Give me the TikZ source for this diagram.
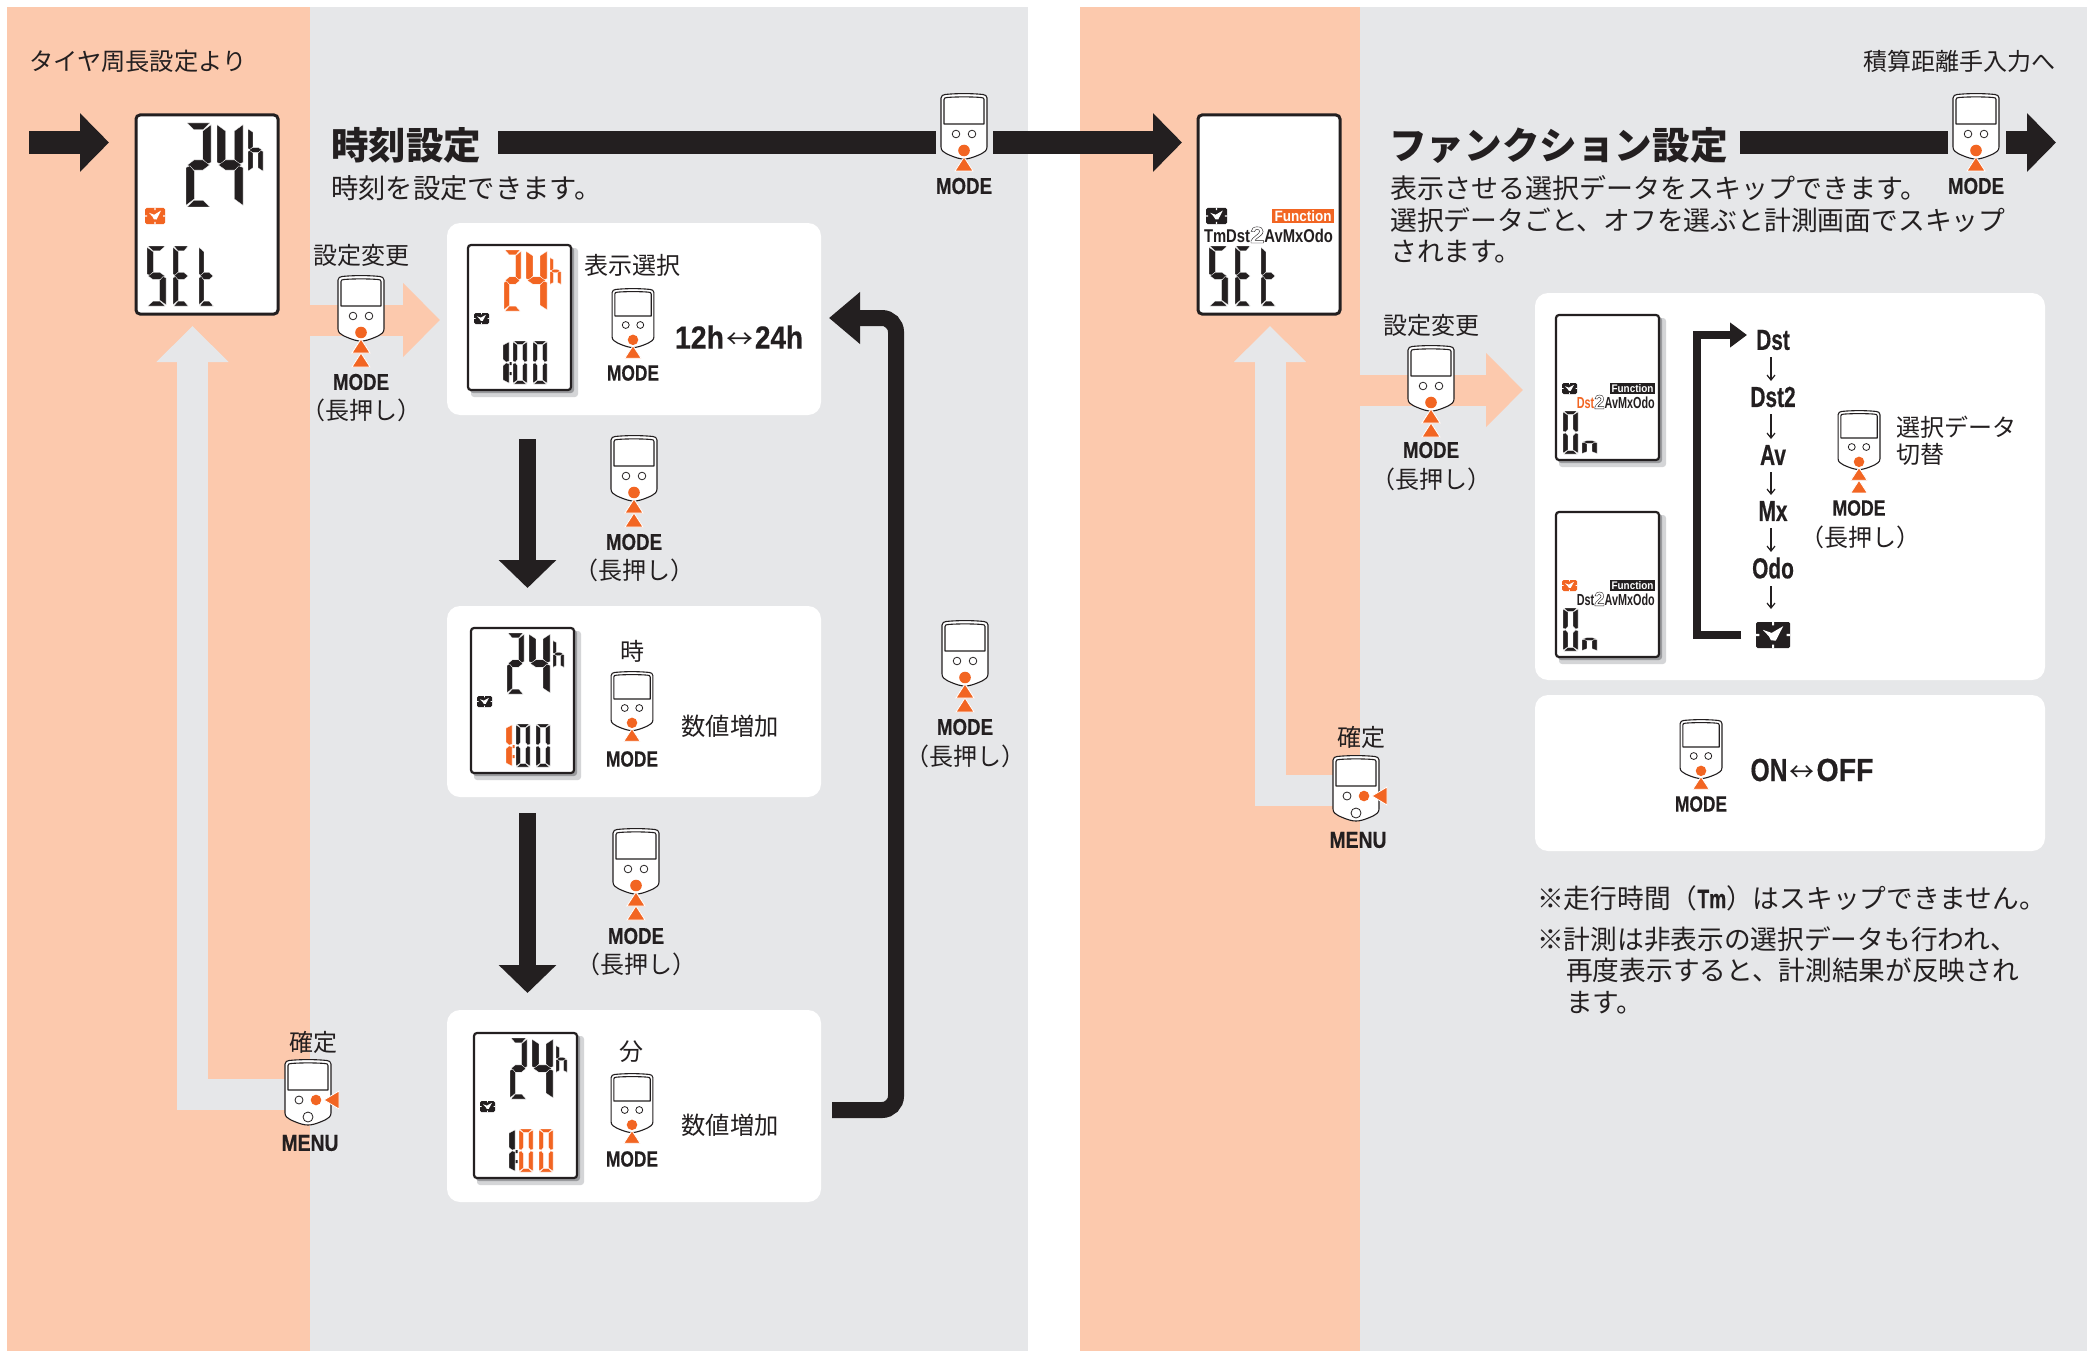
\documentclass[tikz,border=0pt]{standalone}
\usepackage{fontspec}
\usepackage{graphicx}
\usetikzlibrary{arrows.meta}
\setmainfont{Noto Sans CJK JP}
\newfontfamily\jpk{Noto Sans CJK JP Black}
\newfontfamily\cond[FakeStretch=0.72,BoldFeatures={FakeBold=0.35}]{Liberation Sans}
\newfontfamily\condn[FakeStretch=0.72]{Liberation Sans}
\newfontfamily\wide{Liberation Sans}
\definecolor{peach}{HTML}{FCC9AD}
\definecolor{pale}{HTML}{E6E7E9}
\definecolor{org}{HTML}{F26522}
\definecolor{ink}{HTML}{231F20}
\definecolor{shad}{HTML}{9A9B9E}
\definecolor{shadb}{HTML}{D4D5D7}
\newcount\lblno
\newcommand\lbl[4][]{\global\advance\lblno by 1\relax\node[txt,#1] (lbl\the\lblno) at (#2,#3) {#4};}
\newcommand\fs[1]{\fontsize{#1}{#1}\selectfont}
\newcommand\fw[2]{\resizebox{#1pt}{\height}{#2}}
\newcommand\cb[1]{{\cond\bfseries #1}}
\newcommand\cn[1]{{\condn\bfseries #1}}
\def\LCDa{(.05,0)--(.95,0)--(.69,.08)--(.31,.08)--cycle}
\def\LCDb{(1,.02)--(.67,.095)--(.67,.43)--(.84,.49)--(1,.47)--cycle}
\def\LCDc{(1,.98)--(.67,.905)--(.67,.57)--(.84,.51)--(1,.53)--cycle}
\def\LCDd{(.05,1)--(.95,1)--(.69,.92)--(.31,.92)--cycle}
\def\LCDe{(0,.98)--(.33,.905)--(.33,.57)--(.16,.51)--(0,.53)--cycle}
\def\LCDf{(0,.02)--(.33,.095)--(.33,.43)--(.16,.49)--(0,.47)--cycle}
\def\LCDg{(.06,.5)--(.32,.44)--(.68,.44)--(.94,.5)--(.68,.56)--(.32,.56)--cycle}
% digit: x y w h colour segments
\newcommand\digit[6]{\begin{scope}[shift={(#1,#2)},x=#3pt,y=-#4pt]
\foreach \s in {#6}{\expandafter\let\expandafter\segp\csname LCD\s\endcsname
\fill[fill=#5,draw=white,line width=.3pt] \segp;}
\end{scope}}
% clock icon
\newcommand\clk[5]{\begin{scope}[shift={(#1,#2)},x=#3pt,y=-#4pt]
\fill[#5,rounded corners=1.5pt] (0,0) rectangle (1,1);
\fill[white] (.47,0) rectangle (.53,.13) (.47,.87) rectangle (.53,1) (0,.46) rectangle (.1,.54) (.9,.46) rectangle (1,.54);
\fill[white] (.2,.3)--(.46,.42)--(.8,.16)--(.58,.72)--(.44,.7)--(.38,.55)--cycle;
\end{scope}}
% device icon
\newcommand\devbody{%
\draw[devline,fill=white] (-23,4) .. controls (-23,1.5) and (-21,1) .. (-19,.5) .. controls (-8,-.7) and (8,-.7) .. (19,.5) .. controls (21,1) and (23,1.5) .. (23,4) -- (23,53) .. controls (23,57) and (20,58) .. (17,60) .. controls (8,64) and (4,65) .. (0,65) .. controls (-4,65) and (-8,64) .. (-17,60) .. controls (-20,58) and (-23,57) .. (-23,53) -- cycle;
\draw[devline] (-20,30) -- (-20,5.5) .. controls (-20,4) and (-19,3.7) .. (-17,3.5) .. controls (-8,2.7) and (8,2.7) .. (17,3.5) .. controls (19,3.7) and (20,4) .. (20,5.5) -- (20,30) -- cycle;}
\newcommand\devmode{\devbody
\draw[devthin] (-8,40) circle[radius=3.8pt] (8,40) circle[radius=3.8pt];
\fill[org] (0,56.5) circle[radius=5.8pt];
\draw[tri] (0,63)--(9,77)--(-9,77)--cycle;}
\newcommand\devS[4]{\begin{scope}[shift={(#1,#2)},xscale=#3,yscale=#4]\devmode\end{scope}}
\newcommand\devL[4]{\begin{scope}[shift={(#1,#2)},xscale=#3,yscale=#4]\devmode\draw[tri] (0,77)--(9,91)--(-9,91)--cycle;\draw[tri] (0,63)--(9,77)--(-9,77)--cycle;\end{scope}}
\newcommand\devM[2]{\begin{scope}[shift={(#1,#2)}]\devbody
\draw[devthin] (-9,40) circle[radius=4pt] (0,57) circle[radius=5pt];
\fill[org] (8,40) circle[radius=5.3pt];
\draw[tri] (16,40)--(31,31)--(31,49)--cycle;\end{scope}}
% frames
\newcommand\frameB[2]{\draw[line width=3pt,draw=ink,fill=white,rounded corners=4pt] (#1+1,#2+1) rectangle ++(142,199);}
\newcommand\frameS[2]{\fill[shadb,rounded corners=3pt] (#1+4,#2+4) rectangle ++(107,149);
\fill[shad,rounded corners=3pt] (#1+3,#2+3) rectangle ++(104,146);
\draw[line width=2.2pt,draw=ink,fill=white,rounded corners=3pt] (#1+1,#2+1) rectangle ++(103,145);}
\newcommand\bigtop[2]{\digit{#1+51}{#2+9}{25}{84}{ink}{a,b,g,e,d}\digit{#1+82}{#2+9}{26}{84}{ink}{f,b,g,c}\digit{#1+113}{#2+14}{15}{44}{ink}{f,e,g,c}}
\newcommand\bigset[2]{\digit{#1+12}{#2+132}{19}{60}{ink}{a,f,g,c,d}\digit{#1+38}{#2+132}{16}{60}{ink}{a,f,g,e,d}\digit{#1+64}{#2+132}{15}{60}{ink}{f,g,e,d}}
\newcommand\lcdS[5]{\frameS{#1}{#2}\begin{scope}[shift={(#1,#2)}]
\digit{37}{6}{17}{61}{#3}{a,b,g,e,d}\digit{59}{6}{21}{61}{#3}{f,b,g,c}\digit{83}{13}{11}{28}{#3}{f,e,g,c}
\clk{7}{69}{15}{11}{ink}
\digit{24}{97}{18}{43}{#4}{b,c}\fill[#4] (42.5,118) rectangle (44.5,121) (42.5,128) rectangle (44.5,131);
\digit{46}{97}{14}{43}{#5}{a,b,c,d,e,f}\digit{66}{97}{14}{43}{#5}{a,b,c,d,e,f}
\end{scope}}
\newcommand\otwo{\special{pdf:code 1 Tr 0.4 w}{\wide\bfseries\fontsize{1.25em}{1em}\selectfont 2}\special{pdf:code 0 Tr 1 w}}
\newcommand\lcdF[4]{\frameS{#1}{#2}\begin{scope}[shift={(#1,#2)}]
\clk{7}{69}{15}{11}{#3}
\fill[ink] (55,69) rectangle (100,79.5);
\lbl{77.5}{74.5}{\fs{11}\textcolor{white}{\fw{42}{\cn{Function}}}}
\lbl[anchor=east]{100}{88}{\fs{16}\fw{78}{\cn{\textcolor{#4}{Dst}\otwo AvMxOdo}}}
\digit{8}{97}{15}{43}{ink}{a,b,c,d,e,f}\digit{27}{116}{15}{24}{ink}{e,g,c}
\end{scope}}
\tikzset{
 txt/.style={inner sep=0pt,text=ink},
 devline/.style={draw=ink,line width=1.1pt,line join=round},
 devthin/.style={draw=ink,line width=.8pt},
 tri/.style={fill=org,draw=white,line width=.8pt,line join=miter},
 box/.style={fill=white,rounded corners=13pt},
 blk/.style={draw=ink,line width=23pt,-{Triangle[length=29pt,width=57pt]}},
 blkb/.style={draw=ink,line width=23pt},
 dwn/.style={draw=ink,line width=17pt,-{Triangle[length=28pt,width=56pt]}},
 pch/.style={draw=peach,line width=31pt,-{Triangle[length=37pt,width=72pt,fill=peach]}},
 gry/.style={draw=pale,line width=31pt,line join=miter,-{Triangle[length=36pt,width=70pt]}},
 sm/.style={draw=ink,line width=1.2pt,-{Straight Barb[length=5pt,width=8pt]}},
}
\begin{document}
\begin{tikzpicture}[x=1pt,y=-1pt]
\useasboundingbox (0,0) rectangle (2087,1351);
\fill[white] (0,0) rectangle (2087,1351);
% panels
\fill[peach] (7,7) rectangle (310,1351);
\fill[pale] (310,7) rectangle (1028,1351);
\fill[peach] (1080,7) rectangle (1360,1351);
\fill[pale] (1360,7) rectangle (2087,1351);
% grey return arrows
\coordinate (ra) at (296,1094.5); \coordinate (rb) at (192.5,1094.5); \coordinate (rc) at (192.5,326);
\draw[gry] (ra) -- (rb) -- (rc);
\coordinate (sa) at (1340,790); \coordinate (sb) at (1270,790); \coordinate (sc) at (1270,326);
\draw[gry] (sa) -- (sb) -- (sc);
% peach arrows
\coordinate (pa) at (310,320); \coordinate (pb) at (440,320);
\draw[pch] (pa) -- (pb);
\coordinate (qa) at (1360,390); \coordinate (qb) at (1523,390);
\draw[pch] (qa) -- (qb);
% boxes
\fill[box] (447,223) rectangle (821,415);
\fill[box] (447,606) rectangle (821,797);
\fill[box] (447,1010) rectangle (821,1202);
\fill[box] (1535,293) rectangle (2045,680);
\fill[box] (1535,695) rectangle (2045,851);
% black arrows
\coordinate (e1) at (29,142.5); \coordinate (e2) at (109,142.5);
\draw[blk] (e1) -- (e2);
\coordinate (b1) at (498,142.5); \coordinate (b2) at (936,142.5);
\draw[blkb] (b1) -- (b2);
\coordinate (b3) at (993,142.5); \coordinate (b4) at (1182,142.5);
\draw[blk] (b3) -- (b4);
\coordinate (c1) at (1740,142.5); \coordinate (c2) at (1948,142.5);
\draw[blkb] (c1) -- (c2);
\coordinate (c3) at (2006,142.5); \coordinate (c4) at (2056,142.5);
\draw[blk] (c3) -- (c4);
\coordinate (d1) at (527.5,439); \coordinate (d2) at (527.5,588);
\draw[dwn] (d1) -- (d2);
\coordinate (d3) at (527.5,813); \coordinate (d4) at (527.5,993);
\draw[dwn] (d3) -- (d4);
\coordinate (l1) at (832,1110); \coordinate (l2) at (896,1110); \coordinate (l3) at (896,318); \coordinate (l4) at (829,318);
\draw[draw=ink,line width=16pt,rounded corners=14pt,-{Triangle[length=31pt,width=50pt]}] (l1) -- (l2) -- (l3) -- (l4);
\coordinate (k1) at (1741,635); \coordinate (k2) at (1697,635); \coordinate (k3) at (1697,335); \coordinate (k4) at (1747,335);
\draw[draw=ink,line width=8pt,line join=miter,-{Triangle[length=17pt,width=24pt]}] (k1) -- (k2) -- (k3) -- (k4);
% header texts
\lbl[anchor=west]{29}{61}{\fs{24.3}タイヤ周長設定より}
\lbl[anchor=east]{2056}{61}{\fs{24}積算距離手入力へ}
\lbl[anchor=west]{331}{145}{\fs{37.5}\jpk 時刻設定}
\lbl[anchor=west]{331}{188}{\fs{27.3}時刻を設定できます。}
\lbl[anchor=west]{1389}{145}{\fs{37.6}\jpk ファンクション設定}
\lbl[anchor=west]{1390}{188}{\fs{27}表示させる選択データをスキップできます。}
\lbl[anchor=west]{1390}{220}{\fs{26.8}選択データごと、オフを選ぶと計測画面でスキップ}
\lbl[anchor=west]{1390}{252}{\fs{26.8}されます。}
% big LCDs
\frameB{135}{114}
\bigtop{135}{114}
\clk{145}{208}{20}{16}{org}
\bigset{135}{114}
\frameB{1197}{114}
\clk{1206}{208}{21}{16}{ink}
\fill[org] (1272,209) rectangle (1334,223);
\lbl{1303}{216}{\fs{15}\textcolor{white}{\fw{57}{\cn{Function}}}}
\lbl{1268.5}{235}{\fs{18.5}\fw{129}{\cn{TmDst\otwo AvMxOdo}}}
\bigset{1197}{114}
% small LCDs
\lcdS{467}{244}{org}{ink}{ink}
\lcdS{470}{627}{ink}{org}{ink}
\lcdS{473}{1032}{ink}{ink}{org}
\lcdF{1555}{314}{ink}{org}
\lcdF{1555}{511}{org}{ink}
% devices
\devL{361}{276}{1}{1}
\lbl{361}{255}{\fs{24}設定変更}
\lbl{361}{382}{\fs{23}\fw{56}{\cb{MODE}}}
\lbl{361}{410}{\fs{24}（長押し）}
\devS{633}{289}{.91}{.9}
\lbl{633}{373}{\fs{22}\fw{52}{\cb{MODE}}}
\lbl[anchor=west]{584}{265}{\fs{24}表示選択}
\lbl{739}{337}{\fs{32}\fw{49}{\cb{12h}}\kern2pt\fw{27}{\fs{26}↔}\kern2pt\fw{48}{\cb{24h}}}
\devL{634}{436}{1}{1}
\lbl{634}{542}{\fs{23}\fw{56}{\cb{MODE}}}
\lbl{634}{570}{\fs{24}（長押し）}
\devS{632}{672}{.91}{.9}
\lbl{632}{759}{\fs{22}\fw{52}{\cb{MODE}}}
\lbl{632}{651}{\fs{24}時}
\lbl{730}{726}{\fs{24.3}数値増加}
\devL{636}{829}{1}{1}
\lbl{636}{936}{\fs{23}\fw{56}{\cb{MODE}}}
\lbl{636}{964}{\fs{24}（長押し）}
\devS{632}{1074}{.91}{.9}
\lbl{632}{1159}{\fs{22}\fw{52}{\cb{MODE}}}
\lbl{631}{1052}{\fs{24}分}
\lbl{730}{1125}{\fs{24.3}数値増加}
\devL{965}{621}{1}{1}
\lbl{965}{727}{\fs{23}\fw{56}{\cb{MODE}}}
\lbl{965}{756}{\fs{24}（長押し）}
\devS{964}{94}{1}{1}
\lbl{964}{186}{\fs{23}\fw{56}{\cb{MODE}}}
\devS{1976}{94}{1}{1}
\lbl{1976}{186}{\fs{23}\fw{56}{\cb{MODE}}}
\devM{308}{1060}
\lbl{313}{1042}{\fs{24}確定}
\lbl{310}{1143}{\fs{23}\fw{57}{\cb{MENU}}}
\devL{1431}{346}{1}{1}
\lbl{1431}{325}{\fs{24}設定変更}
\lbl{1431}{450}{\fs{23}\fw{56}{\cb{MODE}}}
\lbl{1431}{479}{\fs{24}（長押し）}
\devM{1356}{756}
\lbl{1361}{737}{\fs{24}確定}
\lbl{1358}{840}{\fs{23}\fw{57}{\cb{MENU}}}
% function list
\node[txt,font=\fs{29}] (dst) at (1773,340) {\cb{Dst}};
\node[txt,font=\fs{29}] (dsta) at (1773,397) {\cb{Dst2}};
\node[txt,font=\fs{29}] (av) at (1773,455) {\cb{Av}};
\node[txt,font=\fs{29}] (mx) at (1773,511) {\cb{Mx}};
\node[txt,font=\fs{29}] (odo) at (1773,568) {\cb{Odo}};
\coordinate (cl) at (1773,635);
\foreach \p/\q in {dst/dsta,dsta/av,av/mx,mx/odo}{\draw[sm,shorten <=17pt,shorten >=16pt] ([xshift=-2pt]\p.center) -- ([xshift=-2pt]\q.center);}
\draw[sm,shorten <=18pt,shorten >=26pt] ([xshift=-2pt]odo.center) -- ([xshift=-2pt]cl);
\clk{1756}{622}{34}{26}{ink}
\devL{1859}{411}{.91}{.9}
\lbl{1859}{508}{\fs{22}\fw{53}{\cb{MODE}}}
\lbl{1860}{537}{\fs{24}（長押し）}
\lbl[anchor=west]{1896}{427}{\fs{24}選択データ}
\lbl[anchor=west]{1896}{454}{\fs{24}切替}
% on off
\devS{1701}{720}{.91}{.9}
\lbl{1701}{804}{\fs{22}\fw{52}{\cb{MODE}}}
\lbl{1812}{770}{\fs{32}\fw{37}{\cb{ON}}\kern2pt\fw{25}{\fs{26}↔}\kern2pt\fw{57}{\cb{OFF}}}
% notes
\lbl[anchor=west]{1537}{898}{\fs{26.7}※走行時間（\cb{Tm}）はスキップできません。}
\lbl[anchor=west]{1537}{939}{\fs{26.7}※計測は非表示の選択データも行われ、}
\lbl[anchor=west]{1566}{970}{\fs{26.7}再度表示すると、計測結果が反映され}
\lbl[anchor=west]{1566}{1003}{\fs{26.7}ます。}
\end{tikzpicture}
\end{document}
